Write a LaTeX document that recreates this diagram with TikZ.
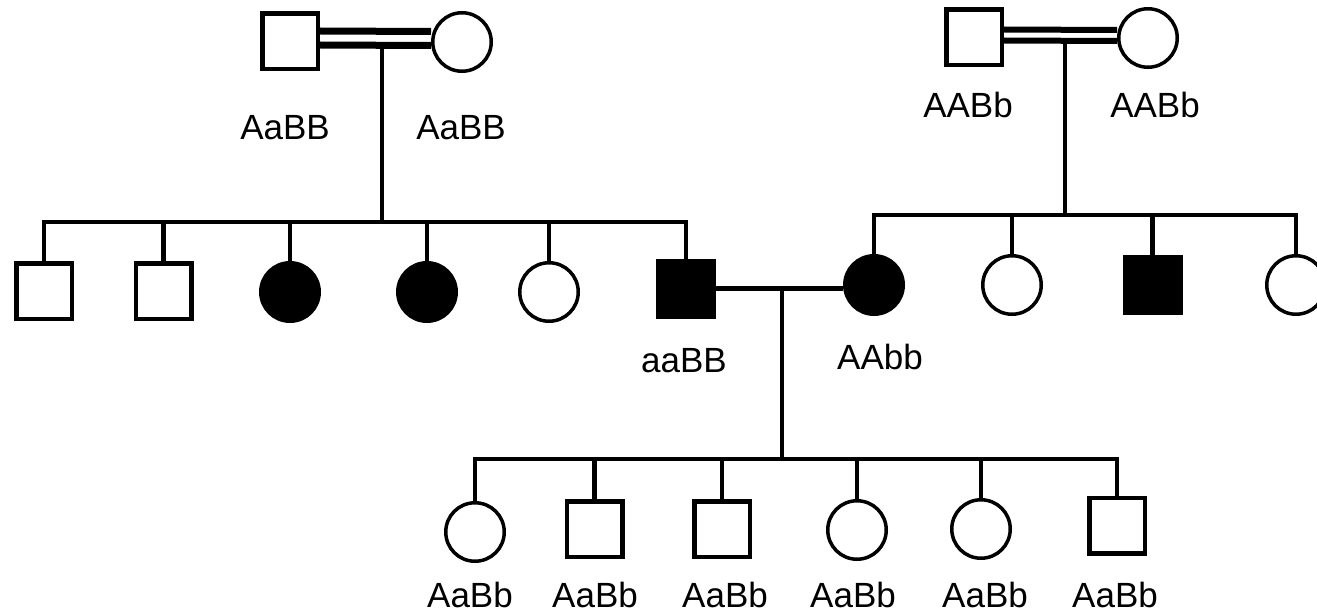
\documentclass[tikz,border=0pt]{standalone}
\usepackage{fontspec}
\setmainfont{Liberation Sans}

\begin{document}
\begin{tikzpicture}[x=1pt,y=-1pt,
  male/.style={shape=rectangle,draw=black,line width=4.5pt,minimum size=55.5pt,inner sep=0pt},
  female/.style={shape=circle,draw=black,line width=3.5pt,minimum size=58.5pt,inner sep=0pt},
  affected/.style={fill=black},
  geno/.style={font=\fontsize{35}{40}\selectfont,inner sep=0pt},
  line/.style={line width=4.5pt},
  mating/.style={line width=7pt}]
\clip (0,0) rectangle (1317,615);

% grandparents, left
\node[male] (gfL) at (290,41.5) {};
\node[female] (gmL) at (462,42) {};
\node[geno] (tgfL) at (285,128) {AaBB};
\node[geno] (tgmL) at (461,128) {AaBB};

% grandparents, right
\node[male] (gfR) at (974,37.5) {};
\node[female] (gmR) at (1148,38) {};
\node[geno] (tgfR) at (968,105) {AABb};
\node[geno] (tgmR) at (1155,105) {AABb};

% children, left
\node[male] (c1) at (44,291) {};
\node[male] (c2) at (163.5,291) {};
\node[female,affected] (c3) at (290,292) {};
\node[female,affected] (c4) at (427,292) {};
\node[female] (c5) at (549,292) {};
\node[male,affected] (c6) at (686,288.5) {};
\node[geno] (tc6) at (684,361) {aaBB};

% children, right
\node[female,affected] (rf1) at (874,285) {};
\node[female] (rc2) at (1012,285) {};
\node[male,affected] (rc3) at (1152.5,285) {};
\node[female] (rc4) at (1296,285) {};
\node[geno] (trf1) at (880,357) {AAbb};

% grandchildren
\node[female] (g1) at (475,532) {};
\node[male] (g2) at (594.5,529) {};
\node[male] (g3) at (722,529) {};
\node[female] (g4) at (857,530) {};
\node[female] (g5) at (981,529) {};
\node[male] (g6) at (1117,525.5) {};
\node[geno] (tg1) at (470,595) {AaBb};
\node[geno] (tg2) at (595,595) {AaBb};
\node[geno] (tg3) at (725,595) {AaBb};
\node[geno] (tg4) at (853,595) {AaBb};
\node[geno] (tg5) at (985,595) {AaBb};
\node[geno] (tg6) at (1115,595) {AaBb};

\coordinate (mL) at (382,48);
\coordinate (sL) at (382,222);
\coordinate (mR) at (1065,43);
\coordinate (sR) at (1065,215);
\coordinate (mM) at (782,288.5);
\coordinate (sM) at (782,459);

% consanguineous matings
\draw[mating] ([yshift=10.5pt]gfL.east) -- ([yshift=10.5pt]gmL.west);
\draw[mating] ([yshift=-3.5pt]gfL.east) -- ([yshift=-3.5pt]gmL.west);
\draw[mating,line width=6pt] ([yshift=8pt]gfR.east) -- ([yshift=8pt]gmR.west);
\draw[mating,line width=6pt] ([yshift=-3pt]gfR.east) -- ([yshift=-3pt]gmR.west);
\draw[line] (c6.east) -- (c6.east -| rf1.west);

\draw[line] (mL) -- (sL);
\draw[line] (c1.north) |- (sL) -| (c6.north);
\foreach \n in {c2,c3,c4,c5}
  \draw[line] (\n.north) -- (\n.north |- sL);

\draw[line] (mR) -- (sR);
\draw[line] (rf1.north) |- (sR) -| (rc4.north);
\foreach \n in {rc2,rc3}
  \draw[line] (\n.north) -- (\n.north |- sR);

\draw[line] (mM) -- (sM);
\draw[line] (g1.north) |- (sM) -| (g6.north);
\foreach \n in {g2,g3,g4,g5}
  \draw[line] (\n.north) -- (\n.north |- sM);
\end{tikzpicture}
\end{document}
